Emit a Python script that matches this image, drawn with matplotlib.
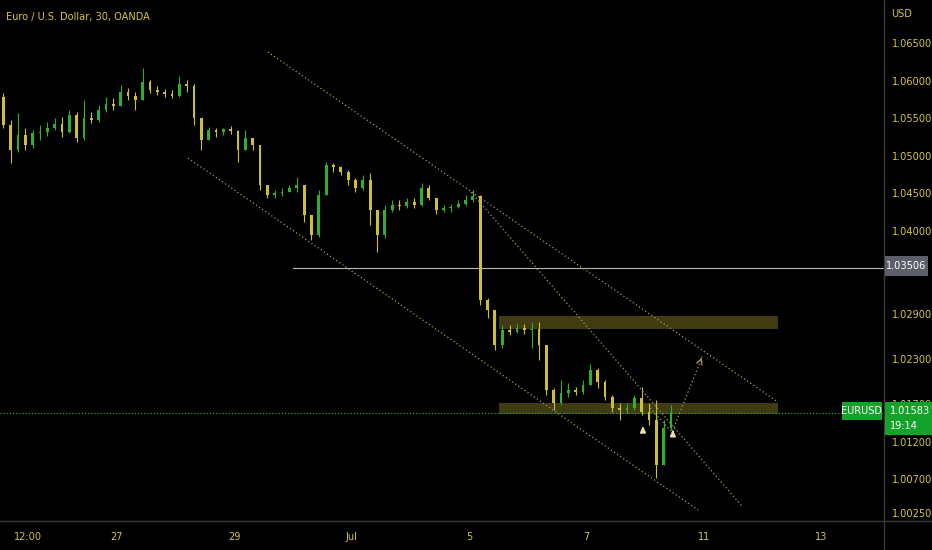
import numpy as np
import matplotlib.pyplot as plt
from matplotlib import font_manager
from matplotlib.patches import Rectangle
from matplotlib.lines import Line2D

W, H, DPI = 932, 550, 100
TXT = '#d2c73a'
UP = '#2fae2f'
DOWN = '#cdbf32'
LINE = '#a39a55'

# TradingView uses a narrow face; take one if the box has it
_fonts = font_manager.fontManager.ttflist
if any(f.name == 'Liberation Sans Narrow' for f in _fonts):
    FONT, STRETCH, FS = ['Liberation Sans Narrow', 'DejaVu Sans'], 'normal', 9
elif any(f.name == 'DejaVu Sans' and f.stretch == 'condensed' for f in _fonts):
    FONT, STRETCH, FS = ['DejaVu Sans'], 'condensed', 7.8
else:
    FONT, STRETCH, FS = ['Roboto', 'DejaVu Sans'], 'normal', 7.4

# EURUSD, 3h candles; x in trading days from Jun 27
first_open = 1.0578
closes = [1.0541, 1.0508, 1.0528, 1.0514, 1.0530, 1.0532, 1.0537, 1.0542, 1.0532, 1.0554,
          1.0524, 1.0550, 1.0548, 1.0561, 1.0569, 1.0566, 1.0585, 1.0580, 1.0574, 1.0598,
          1.0588, 1.0585, 1.0582, 1.0580, 1.0596, 1.0593, 1.0550, 1.0521, 1.0534, 1.0532,
          1.0536, 1.0533, 1.0508, 1.0524, 1.0514, 1.0461, 1.0448, 1.0450, 1.0452, 1.0457,
          1.0461, 1.0421, 1.0395, 1.0448, 1.0488, 1.0485, 1.0478, 1.0468, 1.0457, 1.0468,
          1.0428, 1.0395, 1.0428, 1.0435, 1.0433, 1.0439, 1.0434, 1.0457, 1.0444, 1.0428,
          1.0431, 1.0432, 1.0436, 1.0441, 1.0446, 1.0308, 1.0295, 1.0248, 1.0268, 1.0266,
          1.0271, 1.0268, 1.0270, 1.0248, 1.0189, 1.0171, 1.0185, 1.0189, 1.0186, 1.0195,
          1.0215, 1.0199, 1.0179, 1.0165, 1.0162, 1.0165, 1.0178, 1.0159, 1.0149, 1.0089,
          1.0138, 1.01583]
highs = [1.0583, 1.0548, 1.0557, 1.0537, 1.0534, 1.0541, 1.0545, 1.0550, 1.0552, 1.0561,
         1.0558, 1.0574, 1.0558, 1.0568, 1.0578, 1.0577, 1.0594, 1.0590, 1.0585, 1.0617,
         1.0601, 1.0593, 1.0589, 1.0588, 1.0606, 1.0601, 1.0596, 1.0550, 1.0538, 1.0537,
         1.0537, 1.0540, 1.0534, 1.0534, 1.0524, 1.0514, 1.0457, 1.0455, 1.0457, 1.0461,
         1.0472, 1.0461, 1.0421, 1.0455, 1.0492, 1.0490, 1.0486, 1.0481, 1.0470, 1.0474,
         1.0477, 1.0428, 1.0435, 1.0441, 1.0441, 1.0444, 1.0444, 1.0464, 1.0461, 1.0444,
         1.0435, 1.0436, 1.0441, 1.0448, 1.0455, 1.0448, 1.0311, 1.0295, 1.0275, 1.0275,
         1.0276, 1.0276, 1.0279, 1.0279, 1.0248, 1.0191, 1.0202, 1.0198, 1.0193, 1.0202,
         1.0223, 1.0218, 1.0202, 1.0182, 1.0171, 1.0171, 1.0182, 1.0193, 1.0171, 1.0175,
         1.0149, 1.0169]
lows = [1.0537, 1.0490, 1.0505, 1.0508, 1.0510, 1.0521, 1.0526, 1.0534, 1.0525, 1.0530,
        1.0518, 1.0521, 1.0544, 1.0545, 1.0558, 1.0561, 1.0566, 1.0574, 1.0561, 1.0574,
        1.0584, 1.0581, 1.0578, 1.0577, 1.0578, 1.0585, 1.0541, 1.0508, 1.0525, 1.0525,
        1.0528, 1.0529, 1.0492, 1.0508, 1.0508, 1.0455, 1.0444, 1.0444, 1.0446, 1.0452,
        1.0452, 1.0412, 1.0388, 1.0392, 1.0448, 1.0478, 1.0474, 1.0461, 1.0452, 1.0455,
        1.0408, 1.0372, 1.0391, 1.0425, 1.0428, 1.0431, 1.0431, 1.0433, 1.0441, 1.0423,
        1.0425, 1.0425, 1.0431, 1.0433, 1.0439, 1.0302, 1.0284, 1.0242, 1.0244, 1.0262,
        1.0264, 1.0263, 1.0244, 1.0228, 1.0182, 1.0162, 1.0169, 1.0179, 1.0182, 1.0183,
        1.0195, 1.0191, 1.0175, 1.0159, 1.0149, 1.0158, 1.0162, 1.0155, 1.0142, 1.0071,
        1.0089, 1.0135]
bar_start, bar_step = -1.9375, 0.125

last_price = 1.01583
level_price = 1.03506
upper_zone = (1.0270, 1.0287)
lower_zone = (1.0157, 1.0171)
zone_span = (6.50, 11.26)

# drawings: (x, price) pairs
channel_top = [(2.57, 1.0638), (11.26, 1.01725)]
channel_bottom = [(1.21, 1.0497), (9.90, 1.00289)]
inner_line = [(6.03, 1.04518), (10.66, 1.00329)]
projection = [(9.08, 1.01646), (9.455, 1.01327), (9.98, 1.02351)]
marker_arrows = [(8.96, 1.01360), (9.47, 1.01310)]

date_ticks = [-1.52, 0, 2, 4, 6, 8, 10, 12]
date_labels = ['12:00', '27', '29', 'Jul', '5', '7', '11', '13']
price_ticks = [1.065, 1.06, 1.055, 1.05, 1.045, 1.04, 1.029, 1.023, 1.017, 1.012, 1.007, 1.0025]

fig = plt.figure(figsize=(W / DPI, H / DPI), dpi=DPI, facecolor='black')
ax = fig.add_axes([0, 29 / H, 884 / W, 521 / H], facecolor='black')

closes = np.array(closes)
opens = np.concatenate([[first_open], closes[:-1]])
hi = np.maximum(np.array(highs), np.maximum(opens, closes))
lo = np.minimum(np.array(lows), np.minimum(opens, closes))
xs = bar_start + bar_step * np.arange(len(closes))
cols = [UP if c >= o else DOWN for o, c in zip(opens, closes)]

ax.vlines(xs, lo, hi, colors=cols, lw=0.8, zorder=3)
body = np.abs(closes - opens)
body = np.where(body < 0.00008, 0.00008, body)
ax.bar(xs, body, bottom=np.minimum(opens, closes), width=bar_step * 0.38,
       color=cols, linewidth=0, zorder=3)

# zones and levels
for lo_p, hi_p in (upper_zone, lower_zone):
    ax.add_patch(Rectangle((zone_span[0], lo_p), zone_span[1] - zone_span[0], hi_p - lo_p,
                           facecolor='#6b6420', alpha=0.6, edgecolor='none', zorder=2))
ax.plot([3.0, 14], [level_price] * 2, color='#b8b8b8', lw=0.8, zorder=2)
ax.axhline(last_price, color='#2a9d3a', lw=0.9, ls=(0, (1, 1.5)), zorder=2)

for seg in (channel_top, channel_bottom, inner_line):
    (xa, ya), (xb, yb) = seg
    ax.plot([xa, xb], [ya, yb], color=LINE, lw=0.9, ls=(0, (1, 2)), zorder=4)

px, py = zip(*projection)
ax.plot(px, py, color=LINE, lw=0.9, ls=(0, (1, 2)), zorder=4)
ax.annotate('', xy=projection[-1], xytext=(9.93, 1.0225),
            arrowprops=dict(arrowstyle='->', color=LINE, lw=0.9), zorder=4)
for mx, my in marker_arrows:
    ax.annotate('', xy=(mx, my + 0.0008), xytext=(mx, my - 0.0005),
                arrowprops=dict(arrowstyle='-|>', color='#e6dcae', lw=1.6,
                                mutation_scale=7), zorder=5)

ax.set_xlim(-1.993, 13.066)
ax.set_ylim(1.00144, 1.07072)

ax.set_xticks(date_ticks)
ax.set_xticklabels(date_labels)
ax.yaxis.tick_right()
ax.set_yticks(price_ticks)
ax.set_yticklabels([f'{p:.5f}' for p in price_ticks])
ax.tick_params(axis='x', length=0, pad=8, colors=TXT, labelsize=FS)
ax.tick_params(axis='y', length=0, pad=6, colors=TXT, labelsize=FS)
for lab in ax.get_xticklabels() + ax.get_yticklabels():
    lab.set_family(FONT)
    lab.set_stretch(STRETCH)
for s in ax.spines.values():
    s.set_visible(False)

# scale separators
fig.add_artist(Line2D([884 / W, 884 / W], [0, 1], color='#3a3a3a', lw=1))
fig.add_artist(Line2D([0, 1], [29 / H, 29 / H], color='#3a3a3a', lw=1))

kw = dict(family=FONT, stretch=STRETCH, fontsize=FS)
fig.text(6 / W, 1 - 17 / H, 'Euro / U.S. Dollar, 30, OANDA', color=TXT,
         va='center', ha='left', **kw)
fig.text(891 / W, 1 - 14 / H, 'USD', color=TXT, va='center', **kw)

# axis labels for the level and the last price
fig.add_artist(Rectangle((885 / W, 1 - 276 / H), 43 / W, 20 / H, facecolor='#5d606b',
                         edgecolor='none', transform=fig.transFigure, zorder=10))
fig.text(906.5 / W, 1 - 266 / H, f'{level_price:.5f}', color='white',
         ha='center', va='center', zorder=11, **kw)
fig.add_artist(Rectangle((885 / W, 1 - 435 / H), 47 / W, 33 / H, facecolor='#13a32a',
                         edgecolor='none', transform=fig.transFigure, zorder=10))
fig.text(890 / W, 1 - 411 / H, f'{last_price:.5f}', color='white',
         ha='left', va='center', zorder=11, **kw)
fig.text(890 / W, 1 - 426 / H, '19:14', color='white',
         ha='left', va='center', zorder=11, **kw)
fig.add_artist(Rectangle((842 / W, 1 - 420 / H), 40 / W, 18 / H, facecolor='#13a32a',
                         edgecolor='none', transform=fig.transFigure, zorder=10))
fig.text(862 / W, 1 - 411 / H, 'EURUSD', color='white',
         ha='center', va='center', zorder=11, **kw)

fig.savefig('out.png', dpi=DPI, facecolor='black')
